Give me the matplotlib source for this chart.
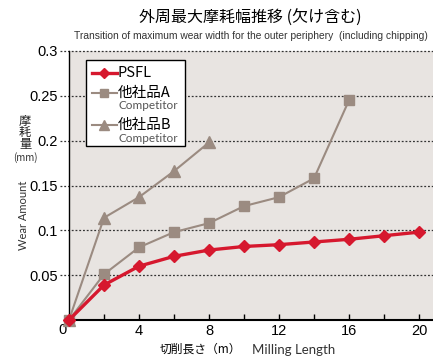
import matplotlib
matplotlib.use("Agg")
import matplotlib.pyplot as plt
from matplotlib.patches import Rectangle
from matplotlib.lines import Line2D
from matplotlib import font_manager

plt.rcParams['font.family'] = ['Noto Sans CJK JP', 'DejaVu Sans']

length = [0, 2, 4, 6, 8, 10, 12, 14, 16, 18, 20]
psfl = [0, 0.039, 0.060, 0.071, 0.078, 0.082, 0.084, 0.087, 0.090, 0.094, 0.098]
length_a = [0, 2, 4, 6, 8, 10, 12, 14, 16]
comp_a = [0, 0.051, 0.081, 0.098, 0.108, 0.127, 0.137, 0.158, 0.245]
length_b = [0, 2, 4, 6, 8]
comp_b = [0, 0.114, 0.137, 0.166, 0.198]
yticks = [0.05, 0.1, 0.15, 0.2, 0.25, 0.3]
xticks_major = [4, 8, 12, 16, 20]
xticks_minor = [2, 4, 6, 8, 10, 12, 14, 16, 18, 20]

RED = '#d6182e'
GREY = '#9b8b81'
BG = '#e8e4e1'


def has_font(name):
    try:
        font_manager.findfont(name, fallback_to_default=False)
        return True
    except Exception:
        return False


narrow = 'Liberation Sans Narrow' if has_font('Liberation Sans Narrow') else None
num_font = 'Liberation Sans'

fig = plt.figure(figsize=(4.33, 3.56), dpi=100)
ax = fig.add_axes([69/433, 1-320/356, 1-69/433, 269/356])
ax.set_facecolor(BG)
ax.set_xlim(0, 20.8)
ax.set_ylim(0, 0.3)

for s in ['top', 'right']:
    ax.spines[s].set_visible(False)
ax.spines['left'].set_linewidth(1.0)
ax.spines['bottom'].set_linewidth(1.5)

# dotted gridlines extended left to labels
for v in yticks:
    ax.plot([-0.026, 1], [v, v], transform=ax.get_yaxis_transform(),
            ls=(0, (1.5, 1.5)), color='#333333', lw=0.9, clip_on=False, zorder=1)

ax.set_yticks(yticks)
ax.set_yticklabels([f'{v:g}' for v in yticks], fontsize=10.5, family=num_font)
ax.tick_params(axis='y', length=0, pad=8)
ax.set_xticks(xticks_major)
ax.set_xticklabels([str(v) for v in xticks_major], fontsize=10.5, family=num_font)
ax.set_xticks(xticks_minor, minor=True)
ax.tick_params(axis='x', which='both', direction='in', length=4, width=1, pad=3)
ax.text(-0.017, -0.0115, '0', transform=ax.get_yaxis_transform(), ha='center', va='center',
        fontsize=10.5, family=num_font)

ax.plot(length_b, comp_b, color=GREY, lw=1.5, marker='^', ms=8.5, zorder=3, clip_on=False)
ax.plot(length_a, comp_a, color=GREY, lw=1.5, marker='s', ms=7.5, zorder=3, clip_on=False)
ax.plot(length, psfl, color=RED, lw=2.4, marker='D', ms=6, zorder=4, clip_on=False)

# legend
trans = ax.transAxes
ax.add_patch(Rectangle((0.048, 0.647), 0.272, 0.32, transform=trans, facecolor='white',
                       edgecolor='black', lw=1, zorder=5))
items = [(0.919, RED, 'D', 2.4, 5, 'PSFL'),
         (0.844, GREY, 's', 1.5, 6, '他社品A'),
         (0.725, GREY, '^', 1.5, 7, '他社品B')]
for y, c, m, lw, ms, lab in items:
    ax.add_line(Line2D([0.063, 0.132], [y, y], transform=trans, color=c, lw=lw, zorder=6))
    ax.add_line(Line2D([0.0975], [y], transform=trans, color=c, marker=m, ms=ms, zorder=6, lw=0))
    ax.text(0.133, y, lab, transform=trans, va='center', ha='left', fontsize=10.5, zorder=7)
for y in [0.796, 0.675]:
    ax.text(0.135, y, 'Competitor', transform=trans, va='center', ha='left', fontsize=8.5,
            color='#555555', zorder=7, family=['Lato', 'DejaVu Sans'])

# titles
fig.text(0.578, 0.948, '外周最大摩耗幅推移 (欠け含む)', ha='center', va='center', fontsize=11.5)
if narrow:
    fig.text(0.58, 0.9, 'Transition of maximum wear width for the outer periphery  (including chipping)',
             ha='center', va='center', fontsize=8, family=narrow, color='#333333')
else:
    fig.text(0.58, 0.9, 'Transition of maximum wear width for the outer periphery  (including chipping)',
             ha='center', va='center', fontsize=7.4, family=num_font, color='#333333')

# y labels (stacked characters)
for ch, yf in zip('摩耗量', [0.66, 0.627, 0.594]):
    fig.text(0.058, yf, ch, ha='center', va='center', fontsize=8.8, color='#222222')
fig.text(0.058, 0.558, '(mm)', ha='center', va='center', fontsize=7, color='#333333')
fig.text(0.055, 0.395, 'Wear Amount', ha='center', va='center', fontsize=8, rotation=90,
         family=['Lato', 'DejaVu Sans'], color='#333333')

# x label
fig.text(0.556, 0.018, '切削長さ（m）', ha='right', va='center', fontsize=8.5)
fig.text(0.582, 0.018, 'Milling Length', ha='left', va='center', fontsize=9.5,
         family=['Lato', 'DejaVu Sans'], color='#333333')

fig.savefig('out.png', dpi=100)
